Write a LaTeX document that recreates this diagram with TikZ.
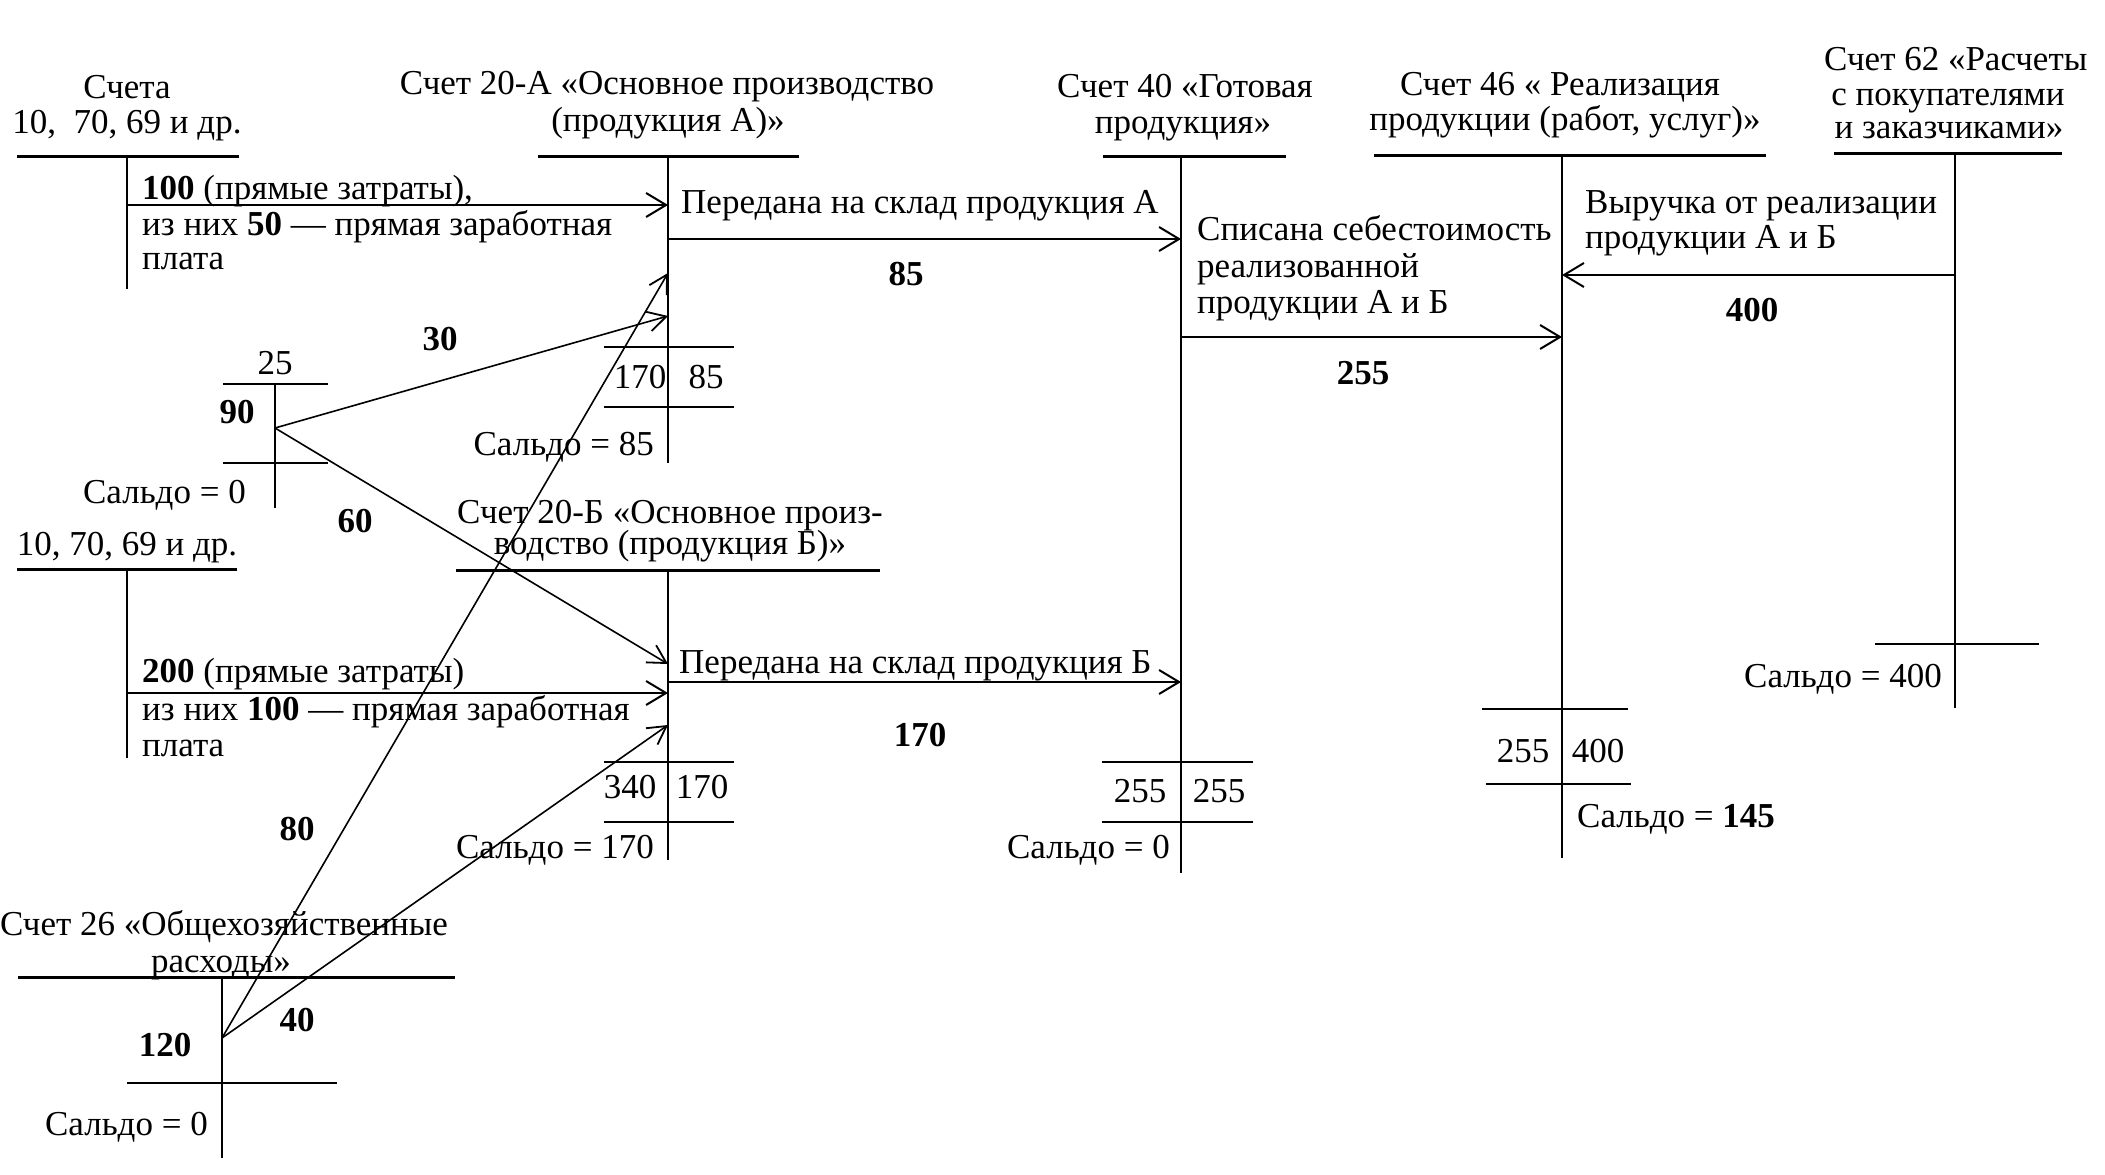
\documentclass[tikz,border=0pt]{standalone}
\usepackage{fontspec}
\setmainfont{Liberation Serif}
\usetikzlibrary{arrows.meta}
\begin{document}
\begin{tikzpicture}[x=1pt,y=-1pt,
  every node/.style={font=\fontsize{35}{36}\selectfont, inner sep=0pt},
  tc/.style={anchor=mid, yshift=-8pt},
  tw/.style={anchor=mid west, yshift=-8pt},
  te/.style={anchor=mid east, yshift=-8pt},
  lbl/.style={font=\fontsize{35}{36}\selectfont\bfseries},
  bar/.style={line width=3pt},
  cbar/.style={line width=2.6pt},
  stem/.style={line width=2pt},
  flow/.style={line width=2pt, -{Straight Barb[length=20pt,width=24pt,line width=2pt]}},
  diag/.style={line width=1.6pt, -{Straight Barb[length=18pt,width=20pt,line width=1.8pt]}}
]
\useasboundingbox[fill=white] (0,0) rectangle (2105,1175);

% Account 10,70,69 (first)
\node[tc] (t1a) at (127,88) {Счета};
\node[tc] (t1b) at (127,123) {10,\ \ 70, 69 и др.};
\draw[bar] (17,156) -- (239,156);
\draw[stem] (127,156) -- (127,289);
\node[tw] (n100a) at (142,189) {\textbf{100} (прямые затраты),};
\node[tw] (n100b) at (142,225) {из них \textbf{50} — прямая заработная};
\node[tw] (n100c) at (142,259) {плата};

% Account 20-A
\node[tc] (tAa) at (667,84) {Счет 20-А «Основное производство};
\node[tc] (tAb) at (668,121) {(продукция А)»};
\draw[bar] (538,156) -- (799,156);
\draw[stem] (668,156) -- (668,463);
\node[tw] (pA) at (681,203) {Передана на склад продукция А};
\node[lbl,tc] (v85) at (906,275) {85};
\draw[cbar] (604,347) -- (734,347);
\node[tc] (A170) at (640,378) {170};
\node[tc] (A85) at (706,378) {85};
\draw[cbar] (604,407) -- (734,407);
\node[te] (sA) at (654,445) {Сальдо = 85};

% small account 25 / 90
\node[tc] (n25) at (275,364) {25};
\draw[cbar] (223,384) -- (328,384);
\draw[stem] (275,384) -- (275,508);
\node[lbl,tc] (n90) at (237,413) {90};
\draw[cbar] (223,463) -- (328,463);
\node[te] (s25) at (246,493) {Сальдо = 0};
\node[lbl,tc] (l30) at (440,340) {30};
\node[lbl,tc] (l60) at (355,522) {60};

% Account 10,70,69 (second)
\node[tc] (t2) at (127,545) {10, 70, 69 и др.};
\draw[bar] (17,569) -- (237,569);
\draw[stem] (127,569) -- (127,758);
\node[tw] (n200a) at (142,672) {\textbf{200} (прямые затраты)};
\node[tw] (n200b) at (142,710) {из них \textbf{100} — прямая заработная};
\node[tw] (n200c) at (142,746) {плата};

% Account 20-B
\node[tc] (tBa) at (670,513) {Счет 20-Б «Основное произ-};
\node[tc] (tBb) at (670,544) {водство (продукция Б)»};
\draw[bar] (456,570) -- (880,570);
\draw[stem] (668,570) -- (668,860);
\node[tw] (pB) at (679,663) {Передана на склад продукция Б};
\node[lbl,tc] (v170) at (920,736) {170};
\draw[cbar] (604,762) -- (734,762);
\node[tc] (B340) at (630,788) {340};
\node[tc] (B170) at (702,788) {170};
\draw[cbar] (604,822) -- (734,822);
\node[te] (sB) at (654,848) {Сальдо = 170};

% Account 26
\node[tc] (t26a) at (224,925) {Счет 26 «Общехозяйственные};
\node[tc] (t26b) at (221,962) {расходы»};
\draw[bar] (18,977) -- (455,977);
\draw[stem] (222,977) -- (222,1158);
\node[lbl,tc] (n120) at (165,1046) {120};
\draw[cbar] (127,1083) -- (337,1083);
\node[te] (s26) at (208,1125) {Сальдо = 0};
\node[lbl,tc] (l80) at (297,830) {80};
\node[lbl,tc] (l40) at (297,1021) {40};

% Account 40
\node[tc] (t40a) at (1185,87) {Счет 40 «Готовая};
\node[tc] (t40b) at (1183,123) {продукция»};
\draw[bar] (1103,156) -- (1286,156);
\draw[stem] (1181,156) -- (1181,873);
\node[tw] (c40a) at (1197,230) {Списана себестоимость};
\node[tw] (c40b) at (1197,267) {реализованной};
\node[tw] (c40c) at (1197,303) {продукции А и Б};
\node[lbl,tc] (v255) at (1363,374) {255};
\draw[cbar] (1102,762) -- (1253,762);
\node[tc] (C255a) at (1140,792) {255};
\node[tc] (C255b) at (1219,792) {255};
\draw[cbar] (1102,822) -- (1253,822);
\node[te] (s40) at (1170,848) {Сальдо = 0};

% Account 46
\node[tc] (t46a) at (1560,85) {Счет 46 « Реализация};
\node[tc] (t46b) at (1565,120) {продукции (работ, услуг)»};
\draw[bar] (1374,155) -- (1766,155);
\draw[stem] (1562,155) -- (1562,858);
\node[tw] (r46a) at (1585,203) {Выручка от реализации};
\node[tw] (r46b) at (1585,238) {продукции А и Б};
\node[lbl,tc] (v400) at (1752,311) {400};
\draw[cbar] (1482,709) -- (1628,709);
\node[tc] (D255) at (1523,752) {255};
\node[tc] (D400) at (1598,752) {400};
\draw[cbar] (1486,784) -- (1631,784);
\node[tw] (s46) at (1577,817) {Сальдо = \textbf{145}};

% Account 62
\node[tw] (t62a) at (1824,60) {Счет 62 «Расчеты};
\node[tc] (t62b) at (1948,95) {с покупателями};
\node[tc] (t62c) at (1949,128) {и заказчиками»};
\draw[bar] (1834,153) -- (2062,153);
\draw[stem] (1955,153) -- (1955,708);
\draw[cbar] (1875,644) -- (2039,644);
\node[te] (s62) at (1942,677) {Сальдо = 400};

% connector end points
\coordinate (o1) at (127,205);  \coordinate (iA1) at (668,205);
\coordinate (oA) at (668,239);  \coordinate (i40a) at (1181,239);
\coordinate (o25) at (275,428); \coordinate (iA2) at (668,316);
\coordinate (iB1) at (668,664);
\coordinate (o2) at (127,693);  \coordinate (iB2) at (668,693);
\coordinate (oB) at (668,682);  \coordinate (i40b) at (1181,682);
\coordinate (o26) at (222,1038); \coordinate (iA3) at (668,273);
\coordinate (iB3) at (668,725);
\coordinate (o40) at (1181,337); \coordinate (i46a) at (1562,337);
\coordinate (o62) at (1955,275); \coordinate (i46b) at (1562,275);

% connectors
\draw[flow] (o1) -- (iA1);
\draw[flow] (oA) -- (i40a);
\draw[flow] (o2) -- (iB2);
\draw[flow] (oB) -- (i40b);
\draw[flow] (o40) -- (i46a);
\draw[flow] (o62) -- (i46b);
\draw[diag] (o25) -- (iA2);
\draw[diag] (o25) -- (iB1);
\draw[diag] (o26) -- (iA3);
\draw[diag] (o26) -- (iB3);
\end{tikzpicture}
\end{document}
